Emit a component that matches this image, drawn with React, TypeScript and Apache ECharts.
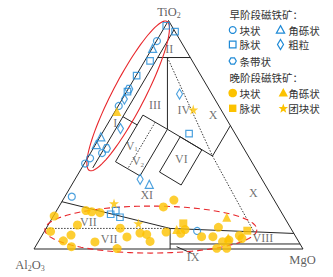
import React, { useEffect, useRef } from 'react';
import * as echarts from 'echarts';

// Ternary compositions written as [TiO2 %, MgO %]; Al2O3 % is the remainder.
const triangleOutline = [[100, 0], [0, 0], [0, 100], [100, 0]];
const lineFieldI = [[95.9, 4.1], [35.5, 4.1]];
const lineFieldIBottom = [[57.9, 4.1], [54.3, 11.2]];
const lineFieldII = [[83.8, 4.1], [83.8, 16.2]];
const lineIIIvsIV = [[83.8, 7.7], [52.4, 23.4]];
const lineBoxesTop = [[58.6, 11.2], [52.4, 23.4], [40.7, 46.0], [54.0, 46.0]];
const boxV = [[58.6, 11.2], [38.2, 11.2], [32.0, 23.4], [52.4, 23.4]];
const boxVDivider = [[55.5, 17.3], [35.1, 17.3]];
const boxVI = [[49.1, 29.8], [33.7, 29.8], [28.0, 40.7], [43.4, 40.7], [49.1, 29.8]];
const dottedFieldX = [[83.8, 7.7], [40.7, 46.0], [7.5, 78.0]];
const lineFieldVII = [[20.7, 0], [9.0, 46.1], [6.8, 93.2]];
const dottedFieldVII = [[9.0, 0], [9.0, 46.1]];
const lineFieldIXSide = [[9.0, 46.1], [0, 50.6]];
const lineFieldIX = [[2.2, 49.5], [2.2, 97.8]];
const leaderIX = [[1.0, 52.5], [-1.9, 59.6]];

// early-stage magnetite (hollow blue)
const earlyMassive = [[91.0, 0.2], [62.6, 0.2], [39.7, 1.0], [37.4, 0.3], [42.0, 4.3], [22.9, 2.6], [7.9, 56.7]];
const earlyBreccia = [[87.8, 0.2], [49.1, 0.3], [45.7, 0.3], [28.3, 28.7]];
const earlyVein = [[97.7, 0.3], [95.1, 4.9], [82.3, 2.0], [75.9, 0.2], [68.9, 0.3], [50.5, 32.4], [15.2, 20.9], [16.8, 22.0], [13.9, 25.0]];
const earlyCoarse = [[65.6, 0.8], [52.7, 5.8], [67.8, 20.2], [30.5, 24.2]];
const earlyBanded = [[70.0, 0.3], [44.0, 5.0]];
// late-stage magnetite (filled gold)
const lateMassive = [
  [14.4, 0.3], [7.7, 2.3], [16.8, 10.9], [16.3, 13.3], [15.9, 16.6], [18.4, 38.9], [21.4, 41.3],
  [10.5, 10.9], [6.1, 10.7], [3.6, 9.1], [1.0, 13.4], [3.1, 21.1], [9.1, 27.5], [5.3, 31.9],
  [0.2, 30.8], [7.0, 35.9], [6.4, 38.7], [3.3, 41.5], [7.4, 45.4], [6.9, 51.1], [8.5, 51.9],
  [5.4, 59.6], [5.4, 63.8], [9.5, 63.8], [3.2, 68.5], [3.9, 70.5], [0.3, 71.5], [0.3, 67.8],
  [5.9, 73.4], [4.6, 75.0],
];
const lateVein = [[11.2, 49.9], [8.0, 75.3]];
const lateBreccia = [[60.2, 0.7], [8.5, 48.8], [13.9, 64.7], [4.8, 69.8]];
const lateNodular = [[61.0, 28.7], [19.9, 19.8], [11.2, 33.2]];

const regionNames = ['I', 'II', 'III', 'IV', 'V1', 'V2', 'VI', 'VII', 'VII', 'VIII', 'IX', 'X', 'X', 'XI'];
const regionPos = [[55.1, 2.7], [87.7, 6.4], [63.0, 13.5], [60.8, 25.3], [45.1, 13.8], [38.3, 19.5], [39.4, 35.1], [11.8, 14.3], [4.2, 25.8], [5.0, 82.6], [-3.3, 60.8], [58.6, 37.3], [24.5, 69.3], [23.6, 30.1]];
const vertexNames = ['TiO2', 'Al2O3', 'MgO'];
const vertexPos = [[100, 0], [0, 0], [0, 100]];
const ellipseCenters = [[67.0, 1.5], [8.5, 39.2]];

const BLUE = '#1f8ad6';
const GOLD = '#fcc200';
const RED = '#e8262b';
const INK = '#262626';
const CJK = '"Noto Sans CJK SC", sans-serif';
const SERIF = '"Liberation Serif", "DejaVu Serif", serif';

const ELLIPSE_SHAPES = [
  { a: 84, b: 16, angle: -62.5, dashed: false },
  { a: 106, b: 23.5, angle: 0, dashed: true },
];

const toXY = (p: number[]) => [(p[1] + p[0] / 2) / 100, p[0] / 100];

const STAR = 'path://M50,0 L61,35 L98,35 L68,57 L79,91 L50,70 L21,91 L32,57 L2,35 L39,35 Z';
const HEX = 'path://M25,0 L75,0 L100,43 L75,87 L25,87 L0,43 Z';

function lineSeries(pts: number[][], dotted = false) {
  return {
    type: 'line',
    data: pts.map(toXY),
    symbol: 'none',
    clip: false,
    silent: true,
    z: 2,
    lineStyle: { color: INK, width: dotted ? 0.9 : 1, type: dotted ? [1.5, 1.5] : 'solid' },
  };
}

function hollow(pts: number[][], symbol: string, size: any) {
  return {
    type: 'scatter',
    data: pts.map(toXY),
    symbol,
    symbolSize: size,
    clip: false,
    silent: true,
    z: 5,
    itemStyle: { color: 'rgba(255,255,255,0)', borderColor: BLUE, borderWidth: 1.2 },
  };
}

function filled(pts: number[][], symbol: string, size: any) {
  return {
    type: 'scatter',
    data: pts.map(toXY),
    symbol,
    symbolSize: size,
    clip: false,
    silent: true,
    z: 5,
    itemStyle: { color: GOLD },
  };
}

function fmtRegion(n: string) {
  if (n === 'V1') return '{n|V}{s|1}';
  if (n === 'V2') return '{n|V}{s|2}';
  return '{n|' + n + '}';
}
function fmtVertex(n: string) {
  if (n === 'TiO2') return '{n|TiO}{s|2}';
  if (n === 'Al2O3') return '{n|Al}{s|2}{n|O}{s|3}';
  return '{n|' + n + '}';
}
const vertexOffsets = [[0.5, -8.5], [-4, 16], [-0.5, 11]];

// ---------- legend graphics ----------
function tri(cx: number, cy: number, s: number) {
  return [[cx, cy - s * 0.58], [cx + s * 0.55, cy + s * 0.42], [cx - s * 0.55, cy + s * 0.42]];
}
function dia(cx: number, cy: number, w: number, h: number) {
  return [[cx, cy - h / 2], [cx + w / 2, cy], [cx, cy + h / 2], [cx - w / 2, cy]];
}
function hexPts(cx: number, cy: number, r: number) {
  const out: number[][] = [];
  for (let k = 0; k < 6; k++) {
    const a = (k * Math.PI) / 3;
    out.push([cx + r * Math.cos(a), cy + r * Math.sin(a)]);
  }
  return out;
}
function starPts(cx: number, cy: number, ro: number, ri: number) {
  const out: number[][] = [];
  for (let k = 0; k < 10; k++) {
    const a = -Math.PI / 2 + (k * Math.PI) / 5;
    const r = k % 2 === 0 ? ro : ri;
    out.push([cx + r * Math.cos(a), cy + r * Math.sin(a)]);
  }
  return out;
}
const hollowStyle = { fill: 'none', stroke: BLUE, lineWidth: 1.2 };
const goldStyle = { fill: GOLD };
function txt(x: number, y: number, text: string) {
  return {
    type: 'text', x, y, z: 10,
    style: { text, fontSize: 10.5, fontFamily: CJK, fill: '#333', verticalAlign: 'middle', textVerticalAlign: 'middle' },
  };
}

const C1 = 232.7;
const C2a = 280.5;
const C2b = 283.3;
const T1 = 239.5;
const T2 = 288.3;
const legendElements: any[] = [
  txt(229.5, 14, '早阶段磁铁矿：'),
  { type: 'circle', shape: { cx: C1, cy: 30, r: 3.4 }, style: hollowStyle },
  txt(T1, 30, '块状'),
  { type: 'polygon', shape: { points: tri(C2a, 30, 7.5) }, style: hollowStyle },
  txt(T2, 30, '角砾状'),
  { type: 'rect', shape: { x: C1 - 3.3, y: 44.5 - 3.3, width: 6.6, height: 6.6 }, style: hollowStyle },
  txt(T1, 44.5, '脉状'),
  { type: 'polygon', shape: { points: dia(C2a, 44.5, 6, 10) }, style: hollowStyle },
  txt(T2, 44.5, '粗粒'),
  { type: 'polygon', shape: { points: hexPts(C1, 61, 3.6) }, style: hollowStyle },
  txt(T1, 61, '条带状'),
  txt(229.5, 77.5, '晚阶段磁铁矿：'),
  { type: 'circle', shape: { cx: C1, cy: 93, r: 4.3 }, style: goldStyle },
  txt(T1, 93, '块状'),
  { type: 'polygon', shape: { points: tri(C2b, 93, 8.5) }, style: goldStyle },
  txt(T2, 93, '角砾状'),
  { type: 'rect', shape: { x: C1 - 3.7, y: 108.3 - 3.7, width: 7.4, height: 7.4 }, style: goldStyle },
  txt(T1, 108.3, '脉状'),
  { type: 'polygon', shape: { points: starPts(C2b, 108.6, 5, 2.1) }, style: goldStyle },
  txt(T2, 108.3, '团块状'),
];

const option: any = {
  animation: false,
  backgroundColor: '#ffffff',
  grid: { left: 34, right: 30, top: 20.5, bottom: 28 },
  xAxis: { type: 'value', min: 0, max: 1, show: false },
  yAxis: { type: 'value', min: 0, max: 1, show: false },
  graphic: { elements: legendElements },
  series: [
    lineSeries(triangleOutline),
    lineSeries(lineFieldI),
    lineSeries(lineFieldIBottom),
    lineSeries(lineFieldII),
    lineSeries(lineIIIvsIV),
    lineSeries(lineBoxesTop),
    lineSeries(boxV),
    lineSeries(boxVDivider, true),
    lineSeries(boxVI),
    lineSeries(dottedFieldX, true),
    lineSeries(lineFieldVII),
    lineSeries(dottedFieldVII, true),
    lineSeries(lineFieldIXSide),
    lineSeries(lineFieldIX),
    lineSeries(leaderIX),
    {
      type: 'custom',
      coordinateSystem: 'cartesian2d',
      clip: false,
      silent: true,
      z: 3,
      encode: { x: 0, y: 1 },
      data: ellipseCenters.map((c, i) => [...toXY(c), i]),
      renderItem: (_params: any, api: any) => {
        const c = api.coord([api.value(0), api.value(1)]);
        const e = ELLIPSE_SHAPES[api.value(2)];
        const th = (e.angle * Math.PI) / 180;
        const pts: number[][] = [];
        for (let k = 0; k < 96; k++) {
          const f = (k / 96) * Math.PI * 2;
          const px = e.a * Math.cos(f);
          const py = e.b * Math.sin(f);
          pts.push([c[0] + px * Math.cos(th) - py * Math.sin(th), c[1] + px * Math.sin(th) + py * Math.cos(th)]);
        }
        return {
          type: 'polygon',
          shape: { points: pts },
          style: { fill: 'none', stroke: RED, lineWidth: 1.1, lineDash: e.dashed ? [6, 4] : null },
        };
      },
    },
    hollow(earlyMassive, 'circle', 7),
    hollow(earlyBreccia, 'triangle', 8),
    hollow(earlyVein, 'rect', 6.5),
    hollow(earlyCoarse, 'diamond', [6, 10]),
    hollow(earlyBanded, HEX, 7.5),
    filled(lateMassive, 'circle', 9),
    filled(lateVein, 'rect', 8),
    filled(lateBreccia, 'triangle', 9),
    filled(lateNodular, STAR, 10),
    {
      type: 'scatter',
      data: regionNames.map((n, i) => ({ name: n, value: toXY(regionPos[i]) })),
      symbolSize: 1,
      clip: false,
      silent: true,
      z: 4,
      itemStyle: { color: 'rgba(0,0,0,0)' },
      label: {
        show: true,
        position: 'inside',
        formatter: (p: any) => fmtRegion(p.name),
        rich: {
          n: { fontSize: 12, fontFamily: SERIF, color: '#4d4d4d', lineHeight: 14 },
          s: { fontSize: 7, fontFamily: SERIF, color: '#4d4d4d', lineHeight: 7, verticalAlign: 'bottom' },
        },
      },
    },
    {
      type: 'scatter',
      data: vertexNames.map((n, i) => ({
        name: n,
        value: toXY(vertexPos[i]),
        label: { offset: vertexOffsets[i] },
      })),
      symbolSize: 1,
      clip: false,
      silent: true,
      z: 4,
      itemStyle: { color: 'rgba(0,0,0,0)' },
      label: {
        show: true,
        position: 'inside',
        formatter: (p: any) => fmtVertex(p.name),
        rich: {
          n: { fontSize: 12.5, fontFamily: SERIF, color: '#333', lineHeight: 15 },
          s: { fontSize: 8, fontFamily: SERIF, color: '#333', lineHeight: 8, verticalAlign: 'bottom' },
        },
      },
    },
  ],
};

export default function App() {
  const ref = useRef<HTMLDivElement>(null);
  useEffect(() => {
    if (!ref.current) return;
    const chart = echarts.init(ref.current, undefined, { renderer: 'svg' });
    chart.setOption(option);
    return () => chart.dispose();
  }, []);
  return (
    <div
      ref={ref}
      style={{ position: 'fixed', left: 0, top: 0, width: 333, height: 277, background: '#fff' }}
    />
  );
}
